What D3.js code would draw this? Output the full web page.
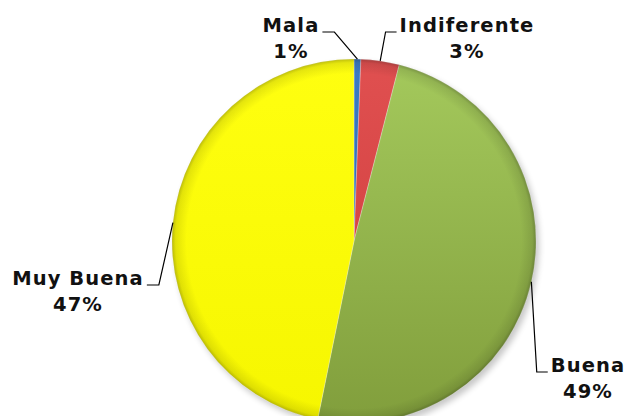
<!DOCTYPE html>
<html>
<head>
<meta charset="utf-8">
<script src="https://cdn.jsdelivr.net/npm/d3@7"></script>
<style>
  html, body { margin: 0; padding: 0; background: #fff; }
  svg { display: block; }
  .lbl { font-family: "DejaVu Sans", Verdana, sans-serif; font-weight: bold; font-size: 19.5px; letter-spacing: 1.1px; fill: #111; }
</style>
</head>
<body>
<svg width="627" height="416"></svg>
<script>
// data
const categories = [`Mala`, `Indiferente`, `Buena`, `Muy Buena`];
const values = [0.6, 3.4, 49.2, 46.8];
const colorsTop = [`#3b7cc4`, `#e05050`, `#a4c95c`, `#ffff10`];
const colorsBottom = [`#255da0`, `#cc3a3a`, `#819e3c`, `#f6f600`];

// label layout: text centre x, first baseline y, elbow side
const labelPos = [
  { x: 291, y: 32, side: `left` },
  { x: 467, y: 32, side: `right` },
  { x: 588, y: 372, side: `right` },
  { x: 78, y: 285, side: `left` }
];

const width = 627, height = 416;
const cx = 354, cy = 241, r = 182;

const svg = d3.select(`svg`);
const defs = svg.append(`defs`);

const total = d3.sum(values);
const fmt = d3.format(`.0%`);
const data = categories.map((c, i) => ({ name: c, value: values[i], i }));

const pie = d3.pie().sort(null).value(d => d.value);
const arcs = pie(data);
const arc = d3.arc().innerRadius(0).outerRadius(r);

// gradients
data.forEach((d, i) => {
  const g = defs.append(`linearGradient`)
    .attr(`id`, `g${i}`)
    .attr(`gradientUnits`, `userSpaceOnUse`)
    .attr(`x1`, 0).attr(`y1`, -r).attr(`x2`, 0).attr(`y2`, r);
  g.append(`stop`).attr(`offset`, `0%`).attr(`stop-color`, colorsTop[i]);
  g.append(`stop`).attr(`offset`, `100%`).attr(`stop-color`, colorsBottom[i]);
});

const rim = defs.append(`radialGradient`)
  .attr(`id`, `rim`)
  .attr(`gradientUnits`, `userSpaceOnUse`)
  .attr(`cx`, 0).attr(`cy`, 0).attr(`r`, r);
rim.append(`stop`).attr(`offset`, `0.92`).attr(`stop-color`, `#000`).attr(`stop-opacity`, 0);
rim.append(`stop`).attr(`offset`, `0.98`).attr(`stop-color`, `#000`).attr(`stop-opacity`, 0.1);
rim.append(`stop`).attr(`offset`, `1`).attr(`stop-color`, `#000`).attr(`stop-opacity`, 0.25);

const shadow = defs.append(`filter`).attr(`id`, `shadow`)
  .attr(`x`, `-10%`).attr(`y`, `-10%`).attr(`width`, `130%`).attr(`height`, `130%`);
shadow.append(`feGaussianBlur`).attr(`stdDeviation`, 3);

const g = svg.append(`g`).attr(`transform`, `translate(${cx},${cy})`);

// drop shadow
g.append(`circle`)
  .attr(`cx`, 3).attr(`cy`, 4).attr(`r`, r)
  .attr(`fill`, `#000`).attr(`opacity`, 0.22)
  .attr(`filter`, `url(#shadow)`);

g.selectAll(`path.slice`)
  .data(arcs)
  .enter().append(`path`)
    .attr(`class`, `slice`)
    .attr(`d`, arc)
    .attr(`fill`, d => `url(#g${d.data.i})`)
    .attr(`stroke`, `rgba(255,255,255,0.35)`)
    .attr(`stroke-width`, 0.8);

g.selectAll(`path.rim`)
  .data(arcs)
  .enter().append(`path`)
    .attr(`class`, `rim`)
    .attr(`d`, arc)
    .attr(`fill`, `url(#rim)`);

// leader lines
const anchor = d => {
  const a = (d.startAngle + d.endAngle) / 2;
  return [Math.sin(a) * r, -Math.cos(a) * r];
};

const textWidth = (txt) => {
  const t = svg.append(`text`).attr(`class`, `lbl`).text(txt);
  const w = t.node().getComputedTextLength();
  t.remove();
  return w;
};

arcs.forEach((d, i) => {
  const p = labelPos[i];
  const [ax, ay] = anchor(d);
  const w = textWidth(d.data.name);
  const ly = p.y - cy;
  const edge = p.side === `left` ? p.x + w / 2 + 3 - cx : p.x - w / 2 - 3 - cx;
  const elbow = p.side === `left` ? edge + 12 : edge - 11;
  g.append(`polyline`)
    .attr(`points`, [[edge, ly], [elbow, ly], [ax, ay]].map(q => q.join(`,`)).join(` `))
    .attr(`fill`, `none`)
    .attr(`stroke`, `#000`)
    .attr(`stroke-width`, 1.2);

  const t = svg.append(`text`)
    .attr(`class`, `lbl`)
    .attr(`text-anchor`, `middle`)
    .attr(`x`, p.x)
    .attr(`y`, p.y);
  t.append(`tspan`).attr(`x`, p.x).text(d.data.name);
  t.append(`tspan`).attr(`x`, p.x).attr(`dy`, 26).text(fmt(d.data.value / total));
});
</script>
</body>
</html>
